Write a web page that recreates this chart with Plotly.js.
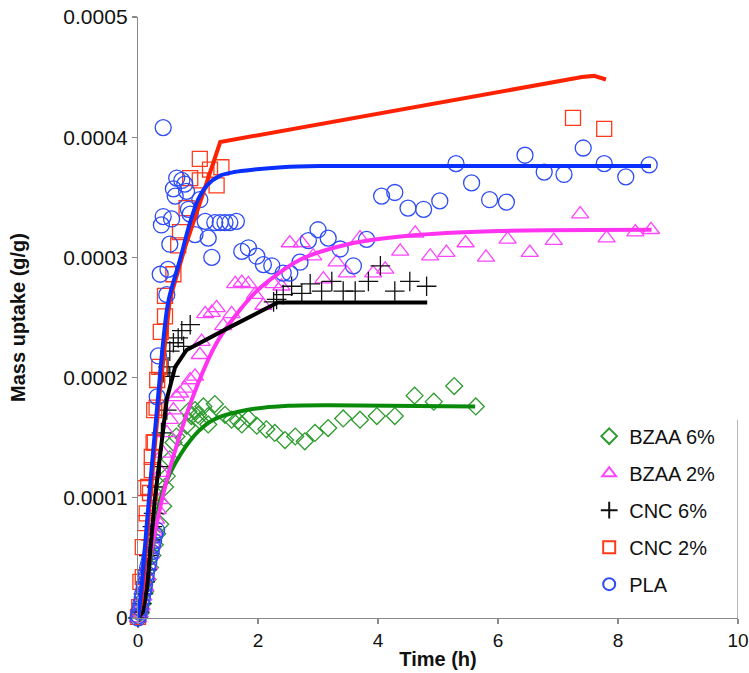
<!DOCTYPE html>
<html>
<head>
<meta charset="utf-8">
<script src="https://cdn.plot.ly/plotly-3.0.1.min.js"></script>
<style>html,body{margin:0;padding:0;background:#fff}#chart{width:749px;height:673px}</style>
</head>
<body>
<div id="chart"></div>
<script>
// ---- Data (time in h, mass uptake in g/g) ----
const seriesNames = ["BZAA 6%", "BZAA 2%", "CNC 6%", "CNC 2%", "PLA"];

// BZAA 6% measured
const bzaa6_t = [0,0.04,0.08,0.12,0.16,0.2,0.24,0.28,0.32,0.37,0.42,0.45,0.48,0.53,0.59,0.64,0.76,0.81,0.84,0.89,0.95,1.0,1.03,1.09,1.17,1.17,1.28,1.45,1.56,1.67,1.73,1.84,1.98,2.14,2.28,2.45,2.62,2.78,2.95,3.17,3.42,3.7,3.98,4.28,4.61,4.93,5.27,5.63];
const bzaa6_m = [0,0.000004,0.000012,0.000022,0.000032,0.000042,0.000052,0.000061,0.00007,0.000078,0.000093,0.000109,0.000118,0.000132,0.000146,0.000151,0.00015,0.00016,0.000172,0.000168,0.000173,0.000169,0.000164,0.000176,0.000168,0.000161,0.000178,0.000169,0.000165,0.000164,0.000161,0.000166,0.00016,0.000157,0.000154,0.000148,0.000151,0.000147,0.000154,0.000158,0.000166,0.000165,0.000168,0.000168,0.000185,0.00018,0.000193,0.000176];

// BZAA 2% measured
const bzaa2_t = [0,0.03,0.06,0.09,0.12,0.15,0.18,0.21,0.24,0.27,0.3,0.33,0.37,0.39,0.42,0.48,0.53,0.59,0.64,0.7,0.78,0.87,0.95,1.03,1.06,1.12,1.23,1.31,1.42,1.56,1.62,1.73,1.84,1.95,2.09,2.26,2.39,2.53,2.73,2.92,3.09,3.31,3.48,3.7,3.92,4.12,4.37,4.62,4.87,5.14,5.46,5.8,6.16,6.53,6.93,7.37,7.81,8.29,8.55];
const bzaa2_m = [0,0.000004,0.00001,0.000018,0.000026,0.000035,0.000044,0.000053,0.000062,0.000072,0.000082,0.00009,0.0000983,0.000121,0.000137,0.000154,0.000165,0.000173,0.000184,0.000187,0.000191,0.000198,0.000201,0.000219,0.00023,0.000253,0.000254,0.000258,0.000243,0.000253,0.000278,0.000279,0.000278,0.000269,0.00026,0.000278,0.000276,0.000312,0.000312,0.000301,0.000282,0.000296,0.000287,0.000316,0.000287,0.00029,0.000305,0.00032,0.000301,0.000304,0.000312,0.0003,0.000315,0.000304,0.000314,0.000336,0.000316,0.000321,0.000323];

// CNC 6% measured
const cnc6_t = [0,0.03,0.06,0.09,0.12,0.15,0.18,0.21,0.24,0.26,0.31,0.37,0.39,0.48,0.53,0.42,0.5,0.53,0.76,0.59,0.67,0.73,0.87,2.26,2.31,2.42,2.56,2.73,2.87,3.06,3.23,3.42,3.62,3.84,4.04,4.28,4.53,4.81];
const cnc6_m = [0,0.000005,0.000012,0.00002,0.00003,0.00004,0.000052,0.000065,0.000076,0.000087,0.000109,0.000126,0.000154,0.000173,0.000201,0.000204,0.000209,0.000222,0.000226,0.000229,0.000233,0.000239,0.000244,0.000263,0.000265,0.000269,0.000276,0.00027,0.000278,0.000272,0.00028,0.000272,0.000272,0.00028,0.000293,0.000272,0.00028,0.000276];

// CNC 2% measured
const cnc2_t = [0,0.02,0.04,0.08,0.08,0.12,0.145,0.12,0.17,0.2,0.23,0.23,0.26,0.28,0.27,0.31,0.32,0.355,0.38,0.45,0.45,0.59,0.67,0.7,0.81,0.87,1.03,1.03,1.2,1.31,1.39,7.25,7.77];
const cnc2_m = [0.000001,0.000009,0.00003,0.000034,0.000059,0.000079,0.000087,0.000108,0.000109,0.000104,0.000123,0.000134,0.000146,0.000146,0.000173,0.000175,0.000198,0.000209,0.000238,0.000251,0.000268,0.000286,0.00031,0.000321,0.000341,0.000366,0.000364,0.000382,0.000373,0.00036,0.000375,0.000416,0.000407];

// PLA measured
const pla_t = [0,0.01,0.02,0.04,0.05,0.07,0.08,0.1,0.11,0.13,0.14,0.16,0.18,0.2,0.22,0.24,0.26,0.28,0.31,0.32,0.34,0.48,0.37,0.5,0.53,0.39,0.42,0.56,0.59,0.62,0.645,0.73,0.78,0.81,0.84,0.87,0.95,1.03,1.12,1.17,1.23,1.28,1.37,1.45,1.53,1.64,1.73,1.84,1.98,2.09,2.23,2.42,2.53,2.7,2.84,3.0,3.17,3.37,3.59,3.81,4.06,4.28,4.5,4.76,5.03,5.3,5.56,5.86,6.14,6.45,6.77,7.1,7.42,7.77,8.13,8.52,0.42];
const pla_m = [0,0.000002,0.000005,0.000008,0.000012,0.000016,0.00002,0.000024,0.000028,0.000033,0.000037,0.000042,0.000046,0.000051,0.000055,0.00006,0.000064,0.000069,0.000073,0.000184,0.000218,0.000269,0.000286,0.00029,0.000311,0.000327,0.000334,0.000332,0.000357,0.000351,0.000366,0.000364,0.000361,0.000355,0.00034,0.000336,0.000319,0.000348,0.00033,0.000316,0.0003,0.000329,0.000329,0.000329,0.000329,0.00033,0.000305,0.000308,0.000301,0.000294,0.000293,0.000287,0.000287,0.000296,0.000314,0.000323,0.000316,0.000307,0.000293,0.000315,0.000351,0.000354,0.000341,0.00034,0.000347,0.000378,0.000362,0.000348,0.000346,0.000385,0.000371,0.000369,0.000391,0.000378,0.000367,0.000377,0.000408];

// Model fits
const bzaa6Fit_t = [0,0.1,0.25,0.37,0.53,0.72,1.0,1.26,1.81,2.5,3.2,5.62];
const bzaa6Fit_m = [0,0.00002,0.00006,0.0000983,0.00012,0.000137,0.000155,0.000165,0.000173,0.0001765,0.000177,0.000176];
const bzaa2Fit_t = [0,0.1,0.2,0.42,0.67,1.0,1.3,1.6,2.0,2.7,3.5,4.5,6.0,8.56];
const bzaa2Fit_m = [0,0.00002,0.00005,0.000103,0.000148,0.000195,0.000228,0.00025,0.000273,0.000298,0.000311,0.000318,0.000322,0.000323];
const cnc6Fit_t = [0,0.08,0.15,0.28,0.48,0.62,0.81,1.1,1.53,2.33,4.82];
const cnc6Fit_m = [0,0.000005,0.000025,0.0000983,0.000182,0.000209,0.000223,0.000231,0.000242,0.0002625,0.0002625];
const cnc2Fit_t = [0,0.06,0.2,0.35,0.53,0.775,1.05,1.25,1.37,7.4,7.6,7.8];
const cnc2Fit_m = [0,0.000015,0.0000983,0.000182,0.000265,0.000307,0.000348,0.000378,0.000396,0.00045,0.000451,0.000448];
const plaFit_t = [0,0.05,0.15,0.3,0.5,0.7,0.85,1.0,1.15,1.37,1.6,1.92,2.4,3.03,8.55];
const plaFit_m = [0,0.00002,0.00008,0.000165,0.000262,0.000298,0.000326,0.000348,0.00036,0.000368,0.000371,0.000373,0.000375,0.000376,0.000376];

// Axis ticks
const xTicks = [0,2,4,6,8,10];
const yTickVals = [0,0.0001,0.0002,0.0003,0.0004,0.0005];
const yTickText = ["0","0.0001","0.0002","0.0003","0.0004","0.0005"];

// ---- Styling ----
const FONT = "'Liberation Sans', Arial, sans-serif";
const styles = [
  {sym:"diamond-open", size:13, mc:"#2c9a2c", lc:"#0a8a0a", shape:"spline"},
  {sym:"triangle-up-open", size:15, mc:"#ff44ff", lc:"#ff33f0", shape:"spline"},
  {sym:"cross-thin-open", size:14, mc:"#111111", lc:"#000000", shape:"linear"},
  {sym:"square-open", size:15, mc:"#ff3a1a", lc:"#ff2200", shape:"linear"},
  {sym:"circle-open", size:16, mc:"#2d4cf5", lc:"#0a30ff", shape:"spline"}
];
const meas = [[bzaa6_t,bzaa6_m],[bzaa2_t,bzaa2_m],[cnc6_t,cnc6_m],[cnc2_t,cnc2_m],[pla_t,pla_m]];
const fits = [[bzaa6Fit_t,bzaa6Fit_m],[bzaa2Fit_t,bzaa2Fit_m],[cnc6Fit_t,cnc6Fit_m],[cnc2Fit_t,cnc2Fit_m],[plaFit_t,plaFit_m]];

const traces = [];
meas.forEach((d,i)=>{
  traces.push({
    x:d[0], y:d[1], type:"scatter", mode:"markers", name:seriesNames[i],
    legendgroup:"g"+i, cliponaxis:false,
    marker:{symbol:styles[i].sym, size:styles[i].size, color:styles[i].mc,
            line:{color:styles[i].mc, width:1.3}}
  });
});
fits.forEach((d,i)=>{
  traces.push({
    x:d[0], y:d[1], type:"scatter", mode:"lines", showlegend:false,
    legendgroup:"g"+i, cliponaxis:false,
    line:{color:styles[i].lc, width:4, shape:styles[i].shape, smoothing:0.8}
  });
});

const axisCommon = {
  showline:true, linecolor:"#8a8a8a", linewidth:1.2, ticks:"outside", ticklen:5,
  tickcolor:"#8a8a8a", tickwidth:1.2, showgrid:false, zeroline:false
};

const layout = {
  width:749, height:673,
  margin:{l:138, r:11, t:17, b:55},
  paper_bgcolor:"#fff", plot_bgcolor:"#fff",
  font:{family:FONT, color:"#111"},
  showlegend:true,
  legend:{x:0.752, y:0.335, xanchor:"left", yanchor:"top",
          bgcolor:"rgba(0,0,0,0)", font:{family:FONT, size:20, color:"#111"},
          traceorder:"grouped", tracegroupgap:8, itemsizing:"constant"},
  xaxis:Object.assign({}, axisCommon, {
    range:[0,10], tickvals:xTicks, ticktext:xTicks.map(String),
    tickfont:{family:FONT, size:19, color:"#111"},
    title:{text:"<b>Time (h)</b>", font:{family:FONT, size:20, color:"#111"}, standoff:2}
  }),
  yaxis:Object.assign({}, axisCommon, {
    range:[0,0.0005], tickvals:yTickVals, ticktext:yTickText,
    tickfont:{family:FONT, size:21, color:"#111"},
    title:{text:"<b>Mass uptake (g/g)</b>", font:{family:FONT, size:20, color:"#111"}, standoff:32}
  }),
  shapes:[{type:"line", xref:"x", yref:"paper", x0:10, x1:10, y0:0, y1:0.33,
           line:{color:"#8a8a8a", width:1.2}}]
};

Plotly.newPlot("chart", traces, layout, {displayModeBar:false, staticPlot:true});
</script>
</body>
</html>
